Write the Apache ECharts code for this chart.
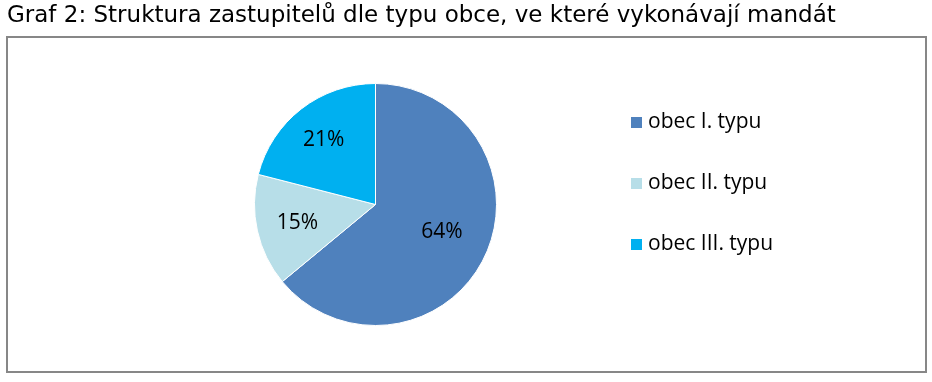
<!DOCTYPE html>
<html><head><meta charset="utf-8">
<script src="https://cdn.jsdelivr.net/npm/echarts@6/dist/echarts.min.js"></script>
<style>html,body{margin:0;padding:0;background:#fff}#c{width:932px;height:382px}</style>
</head><body><div id="c"></div>
<script>
const titleText = 'Graf 2: Struktura zastupitelů dle typu obce, ve které vykonávají mandát';
const categories = ['obec I. typu', 'obec II. typu', 'obec III. typu'];
const values = [64, 15, 21];
const colors = ['#4F81BD', '#B7DEE8', '#00B0F0'];
const labelOffsets = [[9, 0], [-16, 5], [-13, -14]];

const chart = echarts.init(document.getElementById('c'));
chart.setOption({
  backgroundColor: '#fff',
  animation: false,
  graphic: [
    { type: 'rect', shape: { x: 7, y: 37, width: 919, height: 335 }, style: { fill: '#fff', stroke: '#878787', lineWidth: 2 }, z: -1 },
    { type: 'text', left: 7, top: 5, style: { text: titleText, font: '23px "DejaVu Sans"', fill: '#000' } }
  ],
  legend: {
    orient: 'vertical', left: 629, top: 112, padding: 0, itemGap: 40, itemWidth: 13, itemHeight: 13,
    icon: 'rect', textStyle: { fontSize: 21, lineHeight: 20, fontFamily: 'Open Sans', color: '#000' },
    data: categories
  },
  series: [{
    type: 'pie', center: [375.5, 204.5], radius: 121, startAngle: 90, clockwise: true,
    itemStyle: { borderColor: '#fff', borderWidth: 1 },
    label: { position: 'inside', formatter: '{c}%', fontSize: 21, fontFamily: 'Open Sans', color: '#000' },
    labelLine: { show: false },
    emphasis: { disabled: true },
    data: categories.map((n, i) => ({ name: n, value: values[i], itemStyle: { color: colors[i] }, label: { offset: labelOffsets[i] } }))
  }]
});
</script></body></html>
